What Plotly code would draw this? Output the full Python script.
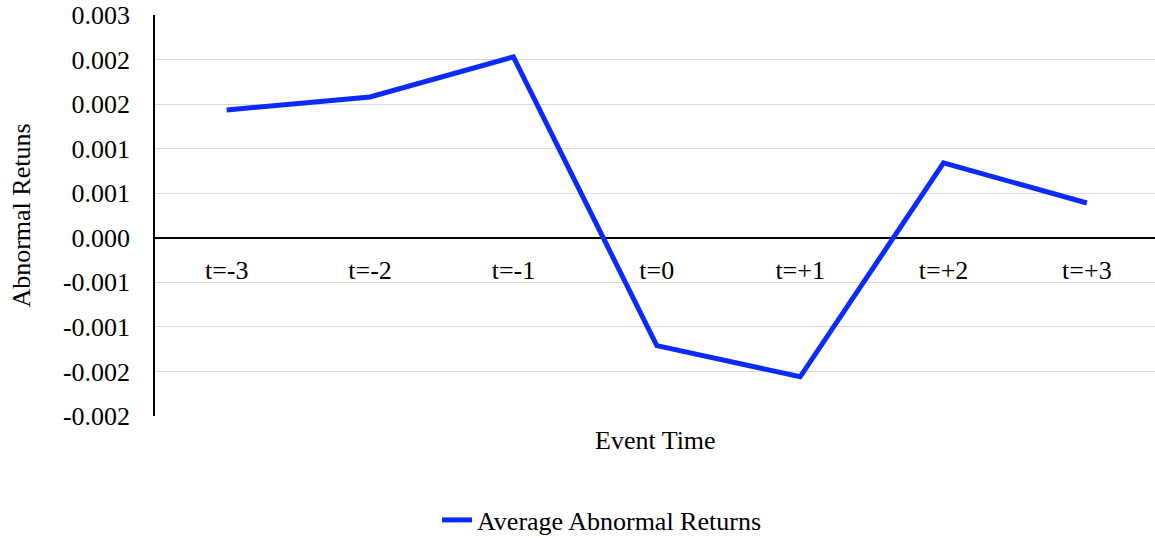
import plotly.graph_objects as go

categories = ["t=-3", "t=-2", "t=-1", "t=0", "t=+1", "t=+2", "t=+3"]
aar_values = [0.001435, 0.00158, 0.00203, -0.00121, -0.00156, 0.00084, 0.00039]
y_tick_vals = [-0.002, -0.0015, -0.001, -0.0005, 0.0, 0.0005, 0.001, 0.0015, 0.002, 0.0025]
y_tick_text = ["-0.002", "-0.002", "-0.001", "-0.001", "0.000", "0.001", "0.001", "0.002", "0.002", "0.003"]

FONT = "Liberation Serif, Times New Roman, serif"

W, H = 1155, 538
plot_top, plot_bottom, plot_left = 15, 416, 155
plot_h = plot_bottom - plot_top

fig = go.Figure()
fig.add_trace(go.Scatter(
    x=list(range(len(categories))), y=aar_values, mode="lines",
    name="Average Abnormal Returns",
    line=dict(color="#0A2BFF", width=5),
))

fig.update_layout(
    width=W, height=H,
    margin=dict(l=plot_left, r=0, t=plot_top, b=H - plot_bottom, autoexpand=False),
    paper_bgcolor="white", plot_bgcolor="white",
    font=dict(family=FONT, size=26, color="black"),
    showlegend=True,
    legend=dict(orientation="h", x=0.282, xanchor="left",
                y=(416 - 520) / plot_h, yanchor="middle",
                font=dict(family=FONT, size=26, color="black")),
    xaxis=dict(
        range=[-0.5, 6.475],
        tickmode="array", tickvals=list(range(len(categories))), ticktext=categories,
        anchor="free", position=4/9,
        showgrid=False, zeroline=False, showline=False, ticks="",
        ticklabelstandoff=14,
        tickfont=dict(family=FONT, size=26, color="black"),
    ),
    yaxis=dict(
        range=[-0.002, 0.0025],
        tickmode="array", tickvals=y_tick_vals, ticktext=y_tick_text,
        showgrid=True, gridcolor="#D9D9D9", gridwidth=1.3,
        zeroline=True, zerolinecolor="black", zerolinewidth=1.5,
        showline=True, linecolor="black", linewidth=1.5,
        ticks="", ticklabelstandoff=18, ticklabeloverflow="allow",
        tickfont=dict(family=FONT, size=26, color="black"),
        title=dict(text="Abnormal Retuns", standoff=25,
                   font=dict(family=FONT, size=26, color="black")),
    ),
    annotations=[dict(text="Event Time", x=0.5, xref="paper",
                      y=(416 - 440) / plot_h, yref="paper", yanchor="middle",
                      showarrow=False, font=dict(family=FONT, size=26, color="black"))],
)

fig.write_html(
    "out.html",
    config={"displayModeBar": False},
    post_script="document.body.style.margin='0';document.body.style.overflow='hidden';",
)
